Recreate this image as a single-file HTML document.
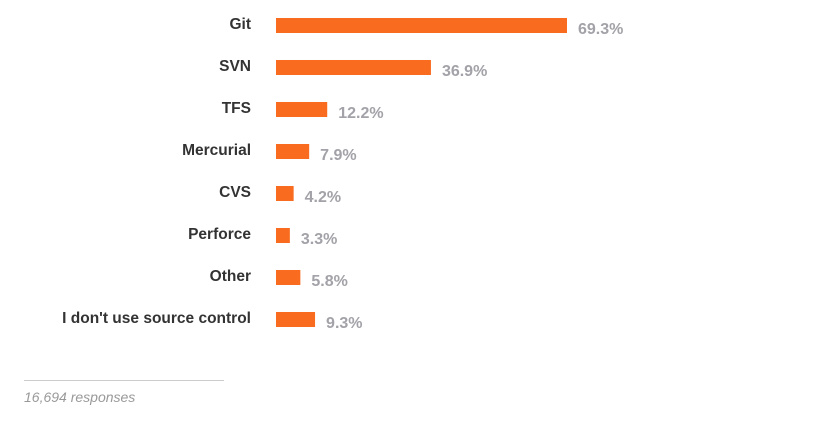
<!DOCTYPE html>
<html><head><meta charset="utf-8"><style>
body{margin:0;background:#fff;width:837px;height:419px;overflow:hidden;font-family:"Liberation Sans",sans-serif}
</style></head><body>
<svg id="chart" width="837" height="419" xmlns="http://www.w3.org/2000/svg">
<line x1="24" y1="380.5" x2="224" y2="380.5" stroke="#ccc" stroke-width="1"/>
<text x="24" y="402" font-size="14" font-style="italic" fill="#999" font-family="Liberation Sans, sans-serif">16,694 responses</text>
</svg>
<script>
const categories=["Git","SVN","TFS","Mercurial","CVS","Perforce","Other","I don't use source control"];
const values=[69.3,36.9,12.2,7.9,4.2,3.3,5.8,9.3];
const valueLabels=["69.3%","36.9%","12.2%","7.9%","4.2%","3.3%","5.8%","9.3%"];
const svg=document.getElementById('chart');
const NS='http://www.w3.org/2000/svg';
const x0=276, pxPer=291/69.3;
function xScale(v){return x0+v*pxPer;}
function yScale(i){return 18+i*42;}
categories.forEach((c,i)=>{
  const y=yScale(i);
  const lab=document.createElementNS(NS,'text');
  
  
  lab.setAttribute('x',251);lab.setAttribute('y',y+11);
  lab.setAttribute('text-anchor','end');lab.setAttribute('font-size','15.5');
  lab.setAttribute('font-weight','bold');lab.setAttribute('fill','#333');
  lab.setAttribute('font-family','Liberation Sans, sans-serif');
  lab.textContent=c;svg.appendChild(lab);
  const r=document.createElementNS(NS,'rect');
  
  
  r.setAttribute('x',x0);r.setAttribute('y',y);
  r.setAttribute('width',xScale(values[i])-x0);r.setAttribute('height',15);
  r.setAttribute('fill','#F96B1E');svg.appendChild(r);
  const v=document.createElementNS(NS,'text');
  
  
  v.setAttribute('x',xScale(values[i])+11);v.setAttribute('y',y+16);
  v.setAttribute('font-size','16');v.setAttribute('font-weight','bold');
  v.setAttribute('fill','#a2a2a8');v.setAttribute('font-family','Liberation Sans, sans-serif');
  v.textContent=valueLabels[i];svg.appendChild(v);
});
</script>
</body></html>
